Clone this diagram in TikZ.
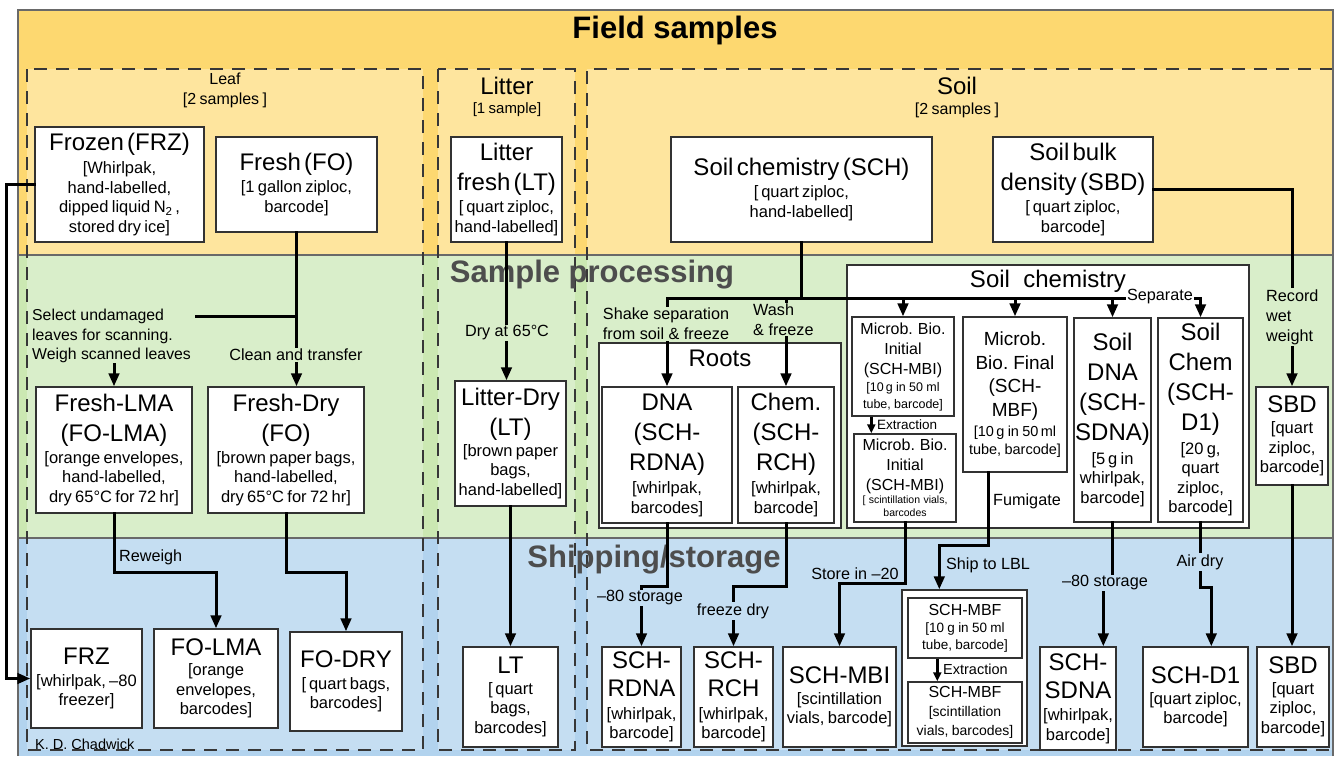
\documentclass[tikz,border=0pt]{standalone}
\usepackage{fontspec}
\setmainfont{Liberation Sans}
\usetikzlibrary{arrows.meta}
\setlength{\parindent}{0pt}
\setlength{\parskip}{0pt}
\hyphenpenalty=10000
\exhyphenpenalty=10000

% band and column colours
\definecolor{bandY}{RGB}{253,216,112}
\definecolor{bandG}{RGB}{203,232,178}
\definecolor{bandB}{RGB}{178,211,238}
\definecolor{colY}{RGB}{254,229,158}
\definecolor{colG}{RGB}{217,238,202}
\definecolor{colB}{RGB}{197,222,242}
\definecolor{frameC}{RGB}{105,105,105}
\definecolor{boxC}{RGB}{50,50,50}
\definecolor{dashC}{RGB}{55,55,55}
\definecolor{ttlC}{RGB}{77,77,77}

% text sizes
\newcommand\fHd{\fontsize{24}{30}\selectfont}
\newcommand\fNt{\fontsize{16.5}{19.5}\selectfont}
\newcommand\fLb{\fontsize{16.2}{20}\selectfont}
\newcommand\fTtl{\fontsize{31}{36}\selectfont\bfseries}
% box text: large heading lines, then bracketed packaging note
\newcommand\Hn[3][3]{{\fHd #2\par}\vskip#1pt{\fNt #3\par}}

\begin{document}
\begin{tikzpicture}[x=1pt,y=-1pt,
  box/.style={rectangle, draw=boxC, fill=white, line width=1.4pt, inner sep=1pt, align=center},
  holder/.style={rectangle, draw=boxC, fill=white, line width=1.4pt, inner sep=0pt},
  conn/.style={line width=3pt, black, line cap=rect},
  arr/.style={conn, -{Triangle[length=13pt,width=10.5pt]}},
  arrsm/.style={line width=2.4pt, black, -{Triangle[length=9pt,width=8pt]}},
  lbl/.style={inner sep=1pt, align=center, font=\fLb},
  colbox/.style={draw=dashC, line width=1.3pt, dash pattern=on 13pt off 9pt},
  ttl/.style={inner sep=0pt, font=\fTtl},
  txt/.style={inner sep=0pt, align=center}]
\useasboundingbox (0,0) rectangle (1338,756);

% ---- stage bands ----
\fill[bandY] (18,10) rectangle (1333,255);
\fill[bandG] (18,255) rectangle (1333,538);
\fill[bandB] (18,538) rectangle (1333,756);
\foreach \a/\b in {27/423,438/575,587/1333}{
  \fill[colY] (\a,69) rectangle (\b,255);
  \fill[colG] (\a,255) rectangle (\b,538);
  \fill[colB] (\a,538) rectangle (\b,750);
}
\draw[frameC, line width=2pt] (18,255) -- (1333,255) (18,538) -- (1333,538);

% ---- sample-type columns ----
\draw[colbox] (27,69) rectangle (423,750);
\draw[colbox] (438,69) rectangle (575,750);
\draw[colbox] (1333,69) -- (587,69) -- (587,750) -- (1333,750);
\draw[frameC, line width=1.5pt] (18,756) -- (18,10) -- (1333,10) -- (1333,756);

% ---- titles and column headings ----
\node[ttl] (fieldttl) at (675,30) {Field samples};
\node[ttl, text=ttlC] (procttl) at (592,275) {Sample processing};
\node[ttl, text=ttlC] (shipttl) at (654,560) {Shipping/storage};
\node[txt, text width=200pt] (leafhd) at (225,90) {\fontsize{16}{20}\selectfont Leaf\par [2 samples ]\par};
\node[txt, text width=130pt] (litterhd) at (507,97) {{\fHd Litter\par}\vskip1pt{\fontsize{15}{18}\selectfont [1 sample]\par}};
\node[txt, text width=200pt] (soilhd) at (957,97) {{\fHd Soil\par}\vskip1pt{\fontsize{16}{19}\selectfont [2 samples ]\par}};
\node[anchor=west, inner sep=0pt, font=\fontsize{14.5}{17}\selectfont] (credit) at (35,744) {K. D. Chadwick};

% ---- field samples ----
\node[box, minimum width=169pt, minimum height=115pt, text width=165pt] (frz) at (119.5,184.5)
  {\Hn[4]{Frozen (FRZ)}{[Whirlpak,\\hand-labelled,\\dipped liquid N\textsubscript{2}\,,\\stored dry ice]}};
\node[box, minimum width=161pt, minimum height=95pt, text width=157pt] (fo) at (296.5,184.5)
  {\Hn{Fresh (FO)}{[1 gallon ziploc,\\barcode]}};
\node[box, minimum width=111pt, minimum height=105pt, text width=107pt] (ltf) at (506.5,189.5)
  {\Hn{Litter\\fresh (LT)}{[\,quart ziploc,\\hand-labelled]}};
\node[box, minimum width=261pt, minimum height=105pt, text width=257pt] (sch) at (801.5,189.5)
  {\Hn{Soil chemistry (SCH)}{[\,quart ziploc,\\hand-labelled]}};
\node[box, minimum width=160pt, minimum height=105pt, text width=156pt] (sbd) at (1073,189.5)
  {\Hn{Soil bulk\\density (SBD)}{[\,quart ziploc,\\barcode]}};

% ---- sample processing ----
\node[box, minimum width=156pt, minimum height=126pt, text width=152pt] (folma) at (114,450)
  {\Hn[2]{Fresh-LMA\\(FO-LMA)}{[orange envelopes,\\hand-labelled,\\dry 65°C for 72 hr]}};
\node[box, minimum width=156pt, minimum height=126pt, text width=152pt] (fodry) at (286,450)
  {\Hn[2]{Fresh-Dry\\(FO)}{[brown paper bags,\\hand-labelled,\\dry 65°C for 72 hr]}};
\node[box, minimum width=111pt, minimum height=125pt, text width=107pt] (ltdry) at (510.5,443.5)
  {\Hn[1]{Litter-Dry\\(LT)}{[brown paper\\bags,\\hand-labelled]}};

\node[holder, minimum width=242pt, minimum height=185pt] (roots) at (720,435.5) {};
\node[txt, font=\fHd] (rootsttl) at (720,358) {Roots};
\node[box, minimum width=130pt, minimum height=136pt, text width=126pt] (rdna) at (667,455)
  {\Hn[4]{DNA\\(SCH-\\RDNA)}{[whirlpak,\\barcodes]}};
\node[box, minimum width=96pt, minimum height=136pt, text width=92pt] (rch) at (786,455)
  {\Hn[4]{Chem.\\(SCH-\\RCH)}{[whirlpak,\\barcode]}};

\node[holder, minimum width=402pt, minimum height=263pt] (soilchem) at (1048,396.5) {};
\node[txt, font=\fHd] (soilchemttl) at (1048,281) {Soil\ \ chemistry};
\node[box, minimum width=102pt, minimum height=99pt, text width=98pt] (mbi1) at (903,366.5)
  {{\fontsize{16}{20}\selectfont Microb. Bio.\\Initial\\(SCH-MBI)\par}\vskip1pt{\fontsize{12.5}{16.5}\selectfont [10\,g in 50 ml\\tube, barcode]\par}};
\node[box, minimum width=102pt, minimum height=88pt, text width=98pt] (mbi2) at (905,478)
  {{\fontsize{16}{20}\selectfont Microb. Bio.\\Initial\\(SCH-MBI)\par}{\fontsize{10.5}{13}\selectfont [ scintillation vials,\\barcodes\par}};
\node[box, minimum width=104pt, minimum height=155pt, text width=100pt] (mbf) at (1015,394.5)
  {{\fontsize{19}{23.5}\selectfont Microb.\\Bio. Final\\(SCH-\\MBF)\par}\vskip2pt{\fontsize{14.5}{18}\selectfont [10\,g in 50\,ml\\tube, barcode]\par}};
\node[box, minimum width=77pt, minimum height=204pt, text width=75pt] (sdna) at (1112.5,420)
  {\Hn[4]{Soil\\DNA\\(SCH-\\SDNA)}{[5\,g in\\whirlpak,\\barcode]}};
\node[box, minimum width=85pt, minimum height=204pt, text width=81pt] (d1) at (1200.5,420)
  {\Hn[4]{Soil\\Chem\\(SCH-\\D1)}{[20 g,\\quart\\ziploc,\\barcode]}};
\node[box, minimum width=72pt, minimum height=98pt, text width=70pt] (sbd2) at (1292,436)
  {\Hn[2]{SBD}{[quart\\ziploc,\\barcode]}};

% ---- shipping / storage ----
\node[box, minimum width=111pt, minimum height=99pt, text width=107pt] (frz3) at (86.5,678.5)
  {\Hn[2]{FRZ}{[whirlpak, –80\\freezer]}};
\node[box, minimum width=124pt, minimum height=99pt, text width=120pt] (folma3) at (216,678.5)
  {\Hn[1]{FO-LMA}{[orange\\envelopes,\\barcodes]}};
\node[box, minimum width=112pt, minimum height=99pt, text width=108pt] (fodry3) at (346,681.5)
  {\Hn[2]{FO-DRY}{[\,quart bags,\\barcodes]}};
\node[box, minimum width=95pt, minimum height=100pt, text width=91pt] (lt3) at (510.5,697)
  {\Hn[1]{LT}{[\,quart\\bags,\\barcodes]}};
\node[box, minimum width=79pt, minimum height=100pt, text width=77pt] (rdna3) at (641.5,697)
  {{\fontsize{24}{28}\selectfont SCH-\\RDNA\par}\vskip3pt{\fNt [whirlpak,\\barcode]\par}};
\node[box, minimum width=79pt, minimum height=100pt, text width=77pt] (rch3) at (733.5,697)
  {{\fontsize{24}{28}\selectfont SCH-\\RCH\par}\vskip3pt{\fNt [whirlpak,\\barcode]\par}};
\node[box, minimum width=113pt, minimum height=100pt, text width=109pt] (mbi3) at (839.5,697)
  {\Hn[1]{SCH-MBI}{[scintillation\\vials, barcode]}\vskip28pt};
\node[holder, minimum width=125pt, minimum height=156pt] (ship) at (964.5,668) {};
\node[box, minimum width=114pt, minimum height=60pt, text width=110pt] (mbf3a) at (965,628)
  {{\fontsize{16}{19}\selectfont SCH-MBF\par}{\fontsize{13.5}{17}\selectfont [10 g in 50 ml\\tube, barcode]\par}};
\node[box, minimum width=114pt, minimum height=61pt, text width=110pt] (mbf3b) at (965,712.5)
  {{\fontsize{16}{19}\selectfont SCH-MBF\par}{\fontsize{14}{19}\selectfont [scintillation\\vials, barcodes]\par}};
\node[box, minimum width=76pt, minimum height=103pt, text width=74pt] (sdna3) at (1078,698.5)
  {{\fontsize{24}{28}\selectfont SCH-\\SDNA\par}\vskip3pt{\fNt [whirlpak,\\barcode]\par}};
\node[box, minimum width=105pt, minimum height=100pt, text width=101pt] (d13) at (1195.5,697)
  {\Hn[1]{SCH-D1}{[quart ziploc,\\barcode]}\vskip26pt};
\node[box, minimum width=72pt, minimum height=100pt, text width=70pt] (sbd3) at (1293,697)
  {\Hn[1]{SBD}{[quart\\ziploc,\\barcode]}};

% ---- leaf connectors ----
\coordinate (frzbend) at (6,184.5);
\draw[arr] (frz.west) -- (frzbend) |- (frz3.west);
\coordinate (selectend) at (196,316);
\draw[conn] (fo.south |- selectend) -- (selectend);
\draw[arr] (fo.south) -- (fo.south |- fodry.north);
\node[lbl, font=\fontsize{15.8}{19.5}\selectfont, anchor=west, align=left] (selectlbl) at (31,336)
  {Select undamaged\\leaves for scanning.\\Weigh scanned leaves};
\draw[arr] (selectlbl.south -| folma.north) -- (folma.north);
\node[lbl, fill=colG] (cleanlbl) at (296,355) {Clean and transfer};
\coordinate (reweighy) at (0,572);
\draw[arr] (folma.south) -- (folma.south |- reweighy) -| (folma3.north);
\node[lbl, anchor=west] (reweighlbl) at (118,557) {Reweigh};
\draw[arr] (fodry.south) -- (fodry.south |- reweighy) -| (fodry3.north);

% ---- litter connectors ----
\draw[arr] (ltf.south) -- (ltf.south |- ltdry.north);
\node[lbl, fill=colG] (drylbl) at (507,333) {Dry at 65°C};
\draw[arr] (ltdry.south) -- (lt3.north);

% ---- soil connectors ----
\coordinate (splitL) at (667,298);
\coordinate (splitR) at (1200.5,298);
\draw[conn] (sch.south) -- (sch.south |- splitL);
\draw[conn] (splitL) -- (splitR);
\draw[arr] (splitL) -- (rdna.north);
\draw[arr] (rch.north |- splitL) -- (rch.north);
\draw[arr] (mbi1.north |- splitL) -- (mbi1.north);
\draw[arr] (mbf.north |- splitL) -- (mbf.north);
\draw[arr] (sdna.north |- splitL) -- (sdna.north);
\draw[arr] (splitR) -- (d1.north);
\node[lbl, fill=colG] (shakelbl) at (666,324) {Shake separation\\from soil \& freeze};
\node[lbl, fill=colG, anchor=west, align=left] (washlbl) at (752,319.5) {Wash\\\& freeze};
\node[lbl, fill=white] (seplbl) at (1160,297) {Separate};

\draw[arrsm] ([xshift=20pt]mbi1.south west) coordinate (ex1) -- (ex1 |- mbi2.north);
\node[lbl, anchor=west, font=\fontsize{13.5}{16}\selectfont] (ext1lbl) at (876,425) {Extraction};

\coordinate (sbdturn) at (1292,189.5);
\draw[arr] (sbd.east) -- (sbdturn) -- (sbdturn |- sbd2.north);
\node[lbl, fill=colG, anchor=west, align=left] (recordlbl) at (1265,317) {Record\\wet\\weight};
\draw[arr] (sbd2.south) -- (sbd2.south |- sbd3.north);

\coordinate (storey) at (0,586);
\draw[arr] (rdna.south) -- (rdna.south |- storey) -| (rdna3.north);
\node[lbl, fill=colB] (store80a) at (640,598) {–80 storage};
\draw[arr] (rch.south) -- (rch.south |- storey) -| (rch3.north);
\node[lbl, fill=colB] (freezelbl) at (733,611) {freeze dry};

\coordinate (mbiy) at (0,583);
\draw[arr] (mbi2.south) -- (mbi2.south |- mbiy) -| (mbi3.north);
\node[lbl, anchor=south] (store20lbl) at (855,581) {Store in –20};

\draw[arr] ([xshift=26pt]mbf.south west) -- ++(0,73) -| ([xshift=38pt]ship.north west);
\node[lbl] (fumlbl) at (1027,501) {Fumigate};
\node[lbl] (shiplbl) at (988,565) {Ship to LBL};
\draw[arrsm] ([xshift=30pt]mbf3a.south west) coordinate (ex2) -- (ex2 |- mbf3b.north);
\node[lbl, anchor=west, font=\fontsize{14.5}{17}\selectfont] (ext2lbl) at (942,669) {Extraction};

\draw[arr] (sdna.south) -- ++(0,55) -| ([xshift=64pt]sdna3.north west);
\node[lbl, fill=colB] (store80b) at (1105,583) {–80 storage};
\draw[arr] (d1.south) -- ++(0,65) -| ([xshift=69pt]d13.north west);
\node[lbl, fill=colB] (airlbl) at (1200,562) {Air dry};
\end{tikzpicture}
\end{document}
